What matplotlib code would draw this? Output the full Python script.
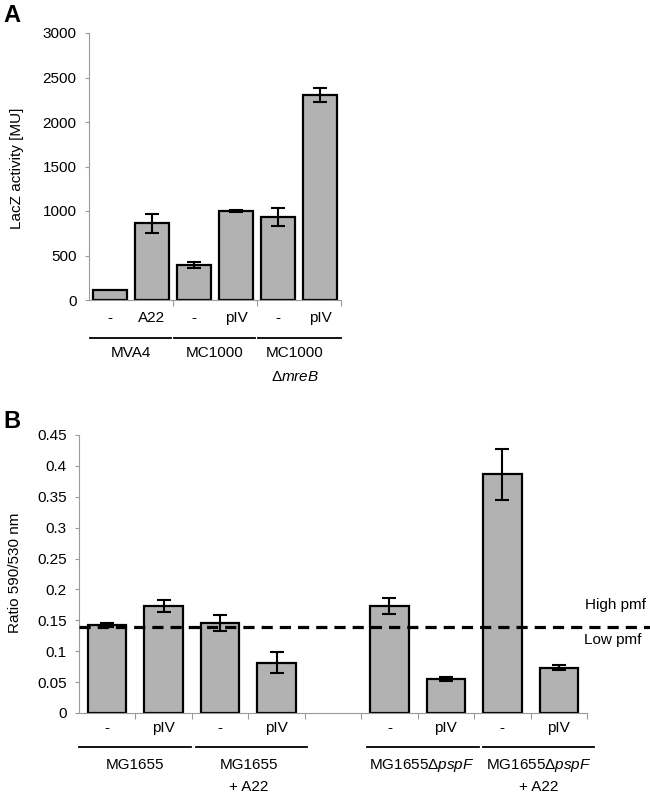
import matplotlib
matplotlib.use("Agg")
import matplotlib.pyplot as plt
import matplotlib.transforms as mtrans
import numpy as np

plt.rcParams['font.family'] = ['Liberation Sans', 'DejaVu Sans']
plt.rcParams['mathtext.fontset'] = 'custom'
plt.rcParams['mathtext.rm'] = 'Liberation Sans'
plt.rcParams['mathtext.it'] = 'Liberation Sans:italic'

# panel A data
a_treat = ["-", "A22", "-", "pIV", "-", "pIV"]
a_vals = [110, 860, 393, 1000, 930, 2305]
a_err = [0, 105, 35, 10, 100, 82]
a_groups = [["MVA4"], ["MC1000"], ["MC1000", "Δ$\\mathit{mreB}$"]]

# panel B data (slot 4 left empty)
b_pos = [0, 1, 2, 3, 5, 6, 7, 8]
b_treat = ["-", "pIV", "-", "pIV", "-", "pIV", "-", "pIV"]
b_vals = [0.142, 0.173, 0.146, 0.081, 0.173, 0.055, 0.3865, 0.0735]
b_err = [0.003, 0.010, 0.013, 0.017, 0.013, 0.003, 0.041, 0.004]
b_groups = [["MG1655"], ["MG1655", "+ A22"], ["MG1655Δ$\\mathit{pspF}$"],
            ["MG1655Δ$\\mathit{pspF}$", "+ A22"]]
pmf_cut = 0.14

bar_col = "#b2b2b2"
ax_col = "#9a9a9a"
fs = 11

W, H = 650, 796
fig = plt.figure(figsize=(6.5, 7.96), dpi=100)


def px(x, y):
    return x / W, 1 - y / H


def style_axis(ax):
    for s in ["top", "right"]:
        ax.spines[s].set_visible(False)
    ax.spines["left"].set_color(ax_col)
    ax.spines["bottom"].set_color(ax_col)
    ax.tick_params(axis="y", colors=ax_col, labelcolor="black", labelsize=fs,
                   length=3, width=0.8, pad=6)
    ax.tick_params(axis="x", colors=ax_col, length=4, width=0.8, labelbottom=False)


# ---------- A ----------
axA = fig.add_axes([89 / W, 1 - 300 / H, 252 / W, 267 / H])
xa = np.arange(len(a_vals))
axA.bar(xa, a_vals, width=0.83, color=bar_col, edgecolor="black", linewidth=1.6, zorder=2)
axA.errorbar(xa[1:], a_vals[1:], yerr=a_err[1:], fmt="none", ecolor="black",
             elinewidth=1.5, capsize=5, capthick=1.5, zorder=3)
axA.set_xlim(-0.5, 5.5)
axA.set_ylim(0, 3000)
axA.set_yticks(range(0, 3001, 500))
axA.set_xticks([1.5, 3.5, 5.5])
style_axis(axA)
trA = mtrans.blended_transform_factory(axA.transData, fig.transFigure)
for i, t in enumerate(a_treat):
    axA.text(i, px(0, 318)[1], t, transform=trA, ha="center", va="center", fontsize=fs)
for g, lines in enumerate(a_groups):
    x0 = 2 * g - 0.48
    x1 = 2 * g + 1.45 if g < 2 else 5.5
    ly = px(0, 338)[1]
    axA.plot([x0, x1], [ly, ly], transform=trA, color="black", lw=1.3, clip_on=False)
    cx = 2 * g + 0.5 if g < 2 else 4.4
    for k, s in enumerate(lines):
        axA.text(cx, px(0, 353 + 24 * k)[1], s, transform=trA, ha="center", va="center",
                 fontsize=fs)
fig.text(*px(17, 168), "LacZ activity [MU]", rotation=90, fontsize=fs, ha="center", va="center")
fig.text(*px(3, 16), "A", fontsize=17, fontweight="bold", va="center", ha="left")

# ---------- B ----------
axB = fig.add_axes([79 / W, 1 - 713 / H, 508 / W, 278 / H])
axB.bar(b_pos, b_vals, width=0.68, color=bar_col, edgecolor="black", linewidth=1.6, zorder=2)
axB.errorbar(b_pos, b_vals, yerr=b_err, fmt="none", ecolor="black",
             elinewidth=1.5, capsize=5, capthick=1.5, zorder=3)
axB.set_xlim(-0.5, 8.5)
axB.set_ylim(0, 0.45)
axB.set_yticks(np.arange(0, 0.451, 0.05))
axB.set_yticklabels(["0", "0.05", "0.1", "0.15", "0.2", "0.25", "0.3", "0.35", "0.4", "0.45"])
axB.set_xticks(np.arange(0.5, 8.6, 1))
style_axis(axB)
axB.plot([-0.5, 10.5], [pmf_cut, pmf_cut], color="black", lw=2.3, ls=(0, (3.5, 2.2)),
         clip_on=False, zorder=4)
trB = mtrans.blended_transform_factory(axB.transData, fig.transFigure)
for p, t in zip(b_pos, b_treat):
    axB.text(p, px(0, 728)[1], t, transform=trB, ha="center", va="center", fontsize=fs)
b_lines = [(-0.5, 1.48), (1.57, 3.54), (4.6, 6.58), (6.65, 8.63)]
b_cx = [0.49, 2.51, 5.57, 7.64]
for (x0, x1), cx, lines in zip(b_lines, b_cx, b_groups):
    ly = px(0, 747)[1]
    axB.plot([x0, x1], [ly, ly], transform=trB, color="black", lw=1.3, clip_on=False)
    for k, s in enumerate(lines):
        axB.text(cx, px(0, 765 + 22 * k)[1], s, transform=trB, ha="center", va="center",
                 fontsize=fs)
fig.text(*px(15, 573), "Ratio 590/530 nm", rotation=90, fontsize=fs, ha="center", va="center")
fig.text(*px(585, 605), "High pmf", fontsize=fs, va="center", ha="left")
fig.text(*px(584, 640), "Low pmf", fontsize=fs, va="center", ha="left")
fig.text(*px(3, 422), "B", fontsize=17, fontweight="bold", va="center", ha="left")

fig.savefig("out.png", dpi=100)
